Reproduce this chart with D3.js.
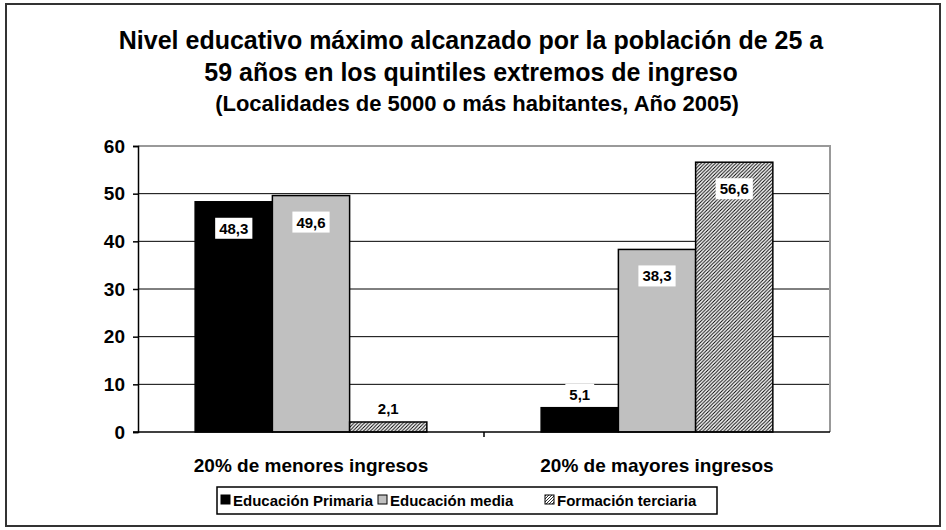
<!DOCTYPE html>
<html>
<head>
<meta charset="utf-8">
<script src="https://cdn.jsdelivr.net/npm/d3@7"></script>
<style>
  html, body { margin: 0; padding: 0; background: #fff; }
  svg { display: block; font-family: "Liberation Sans", Arial, sans-serif; }
</style>
</head>
<body>
<svg id="chart" width="946" height="530"></svg>
<script>
const titleLines = ["Nivel educativo máximo alcanzado por la población de 25 a", "59 años en los quintiles extremos de ingreso"];
const subtitle = "(Localidades de 5000 o más habitantes, Año 2005)";
const categories = ["20% de menores ingresos", "20% de mayores ingresos"];
const seriesNames = ["Educación Primaria", "Educación media", "Formación terciaria"];
const primaria = [48.3, 5.1];
const media = [49.6, 38.3];
const terciaria = [2.1, 56.6];
const yTicks = [0, 10, 20, 30, 40, 50, 60];

(function () {
const seriesValues = [primaria, media, terciaria];
const fills = ["#000000", "#c0c0c0", "url(#hatch)"];

const svg = d3.select("#chart");
const defs = svg.append("defs");
const pat = defs.append("pattern").attr("id", "hatch").attr("patternUnits", "userSpaceOnUse")
  .attr("width", 3.5).attr("height", 3.5);
pat.append("rect").attr("width", 3.5).attr("height", 3.5).attr("fill", "#fff");
pat.append("path").attr("d", "M-1,1 l2,-2 M0,3.5 l3.5,-3.5 M2.5,4.5 l2,-2").attr("stroke", "#000").attr("stroke-width", 1);
const lpat = defs.append("pattern").attr("id", "hatchS").attr("patternUnits", "userSpaceOnUse")
  .attr("width", 3).attr("height", 3);
lpat.append("rect").attr("width", 3).attr("height", 3).attr("fill", "#fff");
lpat.append("path").attr("d", "M-1,1 l2,-2 M0,3 l3,-3 M2,4 l2,-2").attr("stroke", "#000").attr("stroke-width", 0.8);

// outer frame
svg.append("rect").attr("x", 6).attr("y", 4).attr("width", 934).attr("height", 522)
  .attr("fill", "none").attr("stroke", "#333").attr("stroke-width", 2);

// title
const tg = svg.append("g").attr("text-anchor", "middle").attr("font-weight", "bold").attr("fill", "#000");
tg.append("text").attr("x", 471).attr("y", 49).attr("font-size", 25).text(titleLines[0]);
tg.append("text").attr("x", 471).attr("y", 81).attr("font-size", 25).text(titleLines[1]);
tg.append("text").attr("x", 477).attr("y", 111).attr("font-size", 22).text(subtitle);

const pLeft = 138, pRight = 830, pTop = 146, pBottom = 432;
const y = d3.scaleLinear().domain([0, 60]).range([pBottom, pTop]);
const x0 = d3.scaleBand().domain(categories).range([pLeft, pRight]).padding(0);
const x1 = d3.scaleBand().domain(seriesNames).range([0, x0.bandwidth()]).paddingInner(0).paddingOuter(0.74);

// gridlines
svg.append("g").selectAll("line").data(yTicks.filter(t => t > 0 && t < 60)).join("line")
  .attr("x1", pLeft).attr("x2", pRight).attr("y1", d => y(d)).attr("y2", d => y(d))
  .attr("stroke", "#000").attr("stroke-width", 1);
// plot border top/right gray
svg.append("path").attr("d", `M${pLeft},${y(60)}H${pRight}V${pBottom}`)
  .attr("fill", "none").attr("stroke", "#999").attr("stroke-width", 2);

// bars
const bars = svg.append("g");
categories.forEach((c, ci) => {
  seriesNames.forEach((s, si) => {
    const v = seriesValues[si][ci];
    bars.append("rect")
      .attr("x", x0(c) + x1(s)).attr("y", y(v))
      .attr("width", x1.bandwidth()).attr("height", y(0) - y(v))
      .attr("fill", fills[si]).attr("stroke", "#000").attr("stroke-width", 1.5);
  });
});

// y axis
const yAxis = svg.append("g").attr("transform", `translate(${pLeft},0)`)
  .call(d3.axisLeft(y).tickValues(yTicks).tickSize(5).tickPadding(8).tickFormat(d3.format("d")));
yAxis.select(".domain").attr("stroke", "#000").attr("stroke-width", 1.5);
yAxis.selectAll(".tick line").attr("stroke", "#000").attr("stroke-width", 1.5);
yAxis.selectAll("text").attr("font-size", 19).attr("font-weight", "bold").attr("fill", "#000")
  .attr("font-family", "Liberation Sans, Arial, sans-serif");

// x axis
const xAxisG = svg.append("g").attr("transform", `translate(0,${pBottom})`);
xAxisG.append("line").attr("x1", pLeft - 5).attr("x2", pRight).attr("stroke", "#000").attr("stroke-width", 1.5);
xAxisG.selectAll("line.tk").data([x0(categories[1])]).join("line").attr("class", "tk")
  .attr("x1", d => d).attr("x2", d => d).attr("y1", 0).attr("y2", 5).attr("stroke", "#000").attr("stroke-width", 1.5);
xAxisG.selectAll("text").data(categories).join("text")
  .attr("x", d => x0(d) + x0.bandwidth() / 2).attr("y", 40)
  .attr("text-anchor", "middle").attr("font-size", 19).attr("font-weight", "bold").text(d => d);

// data labels
const fmt = v => String(v).replace(".", ",");
const lg = svg.append("g").attr("font-size", 15).attr("font-weight", "bold");
categories.forEach((c, ci) => {
  seriesNames.forEach((s, si) => {
    const v = seriesValues[si][ci];
    const cx = x0(c) + x1(s) + x1.bandwidth() / 2;
    const by = v > 20 ? y(v) + 32 : y(v) - 8;
    const t = lg.append("text").attr("x", cx).attr("y", by).attr("text-anchor", "middle").text(fmt(v));
    const bb = t.node().getBBox();
    lg.insert("rect", () => t.node()).attr("x", bb.x - 4).attr("y", bb.y - 2)
      .attr("width", bb.width + 8).attr("height", bb.height + 4).attr("fill", "#fff");
  });
});

// legend
const legend = svg.append("g");
legend.append("rect").attr("x", 217).attr("y", 487).attr("width", 500).attr("height", 27)
  .attr("fill", "#fff").attr("stroke", "#000").attr("stroke-width", 1.5);
const legX = [221, 378, 545];
const legFills = ["#000000", "#c0c0c0", "url(#hatchS)"];
seriesNames.forEach((s, i) => {
  legend.append("rect").attr("x", legX[i]).attr("y", 495).attr("width", 9).attr("height", 9)
    .attr("fill", legFills[i]).attr("stroke", "#000").attr("stroke-width", 1);
  legend.append("text").attr("x", legX[i] + 12).attr("y", 506).attr("font-size", 15)
    .attr("font-weight", "bold").text(s);
});
})();
</script>
</body>
</html>
